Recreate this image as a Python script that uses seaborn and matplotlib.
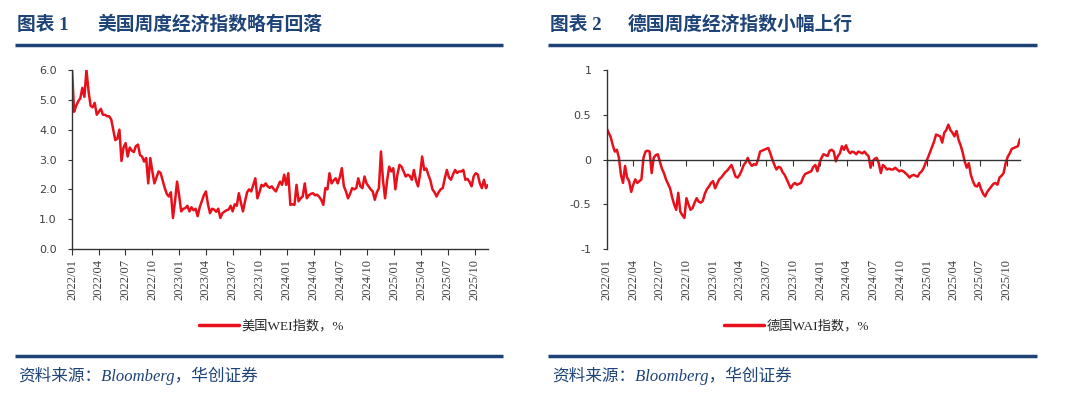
import matplotlib.pyplot as plt
import matplotlib.dates as mdates
from matplotlib.lines import Line2D
import numpy as np
import pandas as pd
import seaborn as sns

# weekly readings, first week 2022/01/01
us_wei = [6.0, 4.6, 4.8, 4.95, 5.05, 5.4, 5.1, 6.0, 5.3, 4.8,
          4.75, 4.9, 4.5, 4.6, 4.7, 4.5, 4.5, 4.45, 4.45, 4.35,
          4.0, 3.65, 3.7, 4.0, 2.95, 3.4, 3.55, 3.1, 3.4, 3.3,
          3.25, 3.45, 3.5, 3.15, 3.1, 2.93, 3.05, 2.2, 3.05, 2.6,
          2.2, 2.4, 2.6, 2.55, 2.3, 2.05, 1.85, 1.76, 1.9, 1.04,
          1.6, 2.26, 1.8, 1.26, 1.35, 1.37, 1.45, 1.26, 1.4, 1.3,
          1.35, 1.1, 1.4, 1.6, 1.8, 1.93, 1.5, 1.2, 1.35, 1.32,
          1.25, 1.35, 1.04, 1.2, 1.25, 1.3, 1.32, 1.45, 1.26, 1.5,
          1.45, 1.87, 1.55, 1.26, 1.6, 1.9, 2.0, 1.93, 2.15, 2.37,
          1.7, 1.9, 2.15, 2.1, 2.2, 2.1, 2.05, 2.1, 2.0, 1.93,
          2.1, 2.26, 2.15, 2.49, 2.15, 2.54, 1.48, 1.5, 1.48, 2.15,
          1.6, 1.7, 1.76, 2.2, 1.7, 1.8, 1.85, 1.87, 1.8, 1.82,
          1.75, 1.65, 1.48, 2.04, 2.0, 2.54, 2.2, 2.3, 2.37, 2.2,
          2.4, 2.71, 2.1, 1.93, 1.7, 1.85, 2.04, 2.0, 2.04, 2.37,
          2.1, 2.04, 2.43, 2.2, 2.1, 2.0, 1.93, 1.65, 1.9, 2.04,
          3.27, 2.3, 1.7, 2.3, 2.76, 2.6, 2.71, 2.0, 2.5, 2.82,
          2.76, 2.6, 2.43, 2.49, 2.45, 2.32, 2.65, 2.3, 2.1, 2.5,
          3.1, 2.65, 2.7, 2.49, 2.3, 2.0, 1.9, 1.76, 1.9, 2.0,
          2.04, 2.37, 2.65, 2.4, 2.32, 2.5, 2.65, 2.55, 2.6, 2.6,
          2.65, 2.32, 2.35, 2.25, 2.1, 2.43, 2.54, 2.5, 2.2, 2.04,
          2.32, 2.04, 2.15]

de_wai = [0.35, 0.3, 0.25, 0.16, 0.09, 0.11, 0.02, -0.17, -0.26, -0.07,
          -0.2, -0.24, -0.36, -0.28, -0.22, -0.26, -0.24, -0.22, 0.02, 0.09,
          0.1, 0.09, -0.15, 0.02, 0.05, 0.06, -0.02, -0.1, -0.15, -0.22,
          -0.27, -0.32, -0.42, -0.5, -0.56, -0.37, -0.58, -0.62, -0.65, -0.43,
          -0.5, -0.56, -0.54, -0.48, -0.43, -0.47, -0.48, -0.46, -0.38, -0.33,
          -0.3, -0.26, -0.24, -0.32, -0.27, -0.22, -0.2, -0.17, -0.14, -0.12,
          -0.09, -0.06, -0.12, -0.19, -0.2, -0.17, -0.12, -0.06, -0.03, 0.02,
          -0.04, -0.07, -0.05, -0.06, 0.0, 0.09, 0.1, 0.11, 0.12, 0.13,
          0.07, 0.0, -0.06, -0.11, -0.08, -0.09, -0.14, -0.17, -0.22, -0.27,
          -0.32, -0.28, -0.26, -0.28, -0.27, -0.26, -0.2, -0.16, -0.15, -0.14,
          -0.13, -0.08, -0.06, -0.13, -0.04, 0.02, 0.06, 0.05, 0.04, 0.1,
          0.11, 0.09, -0.02, 0.04, 0.07, 0.15, 0.11, 0.16, 0.1, 0.07,
          0.09, 0.08, 0.06, 0.09, 0.08, 0.07, 0.09, 0.06, 0.04, -0.09,
          -0.02, 0.01, 0.02, -0.04, -0.15, -0.06, -0.08, -0.11, -0.1, -0.11,
          -0.11, -0.09, -0.11, -0.13, -0.12, -0.13, -0.15, -0.17, -0.2, -0.18,
          -0.17, -0.18, -0.19, -0.15, -0.13, -0.09, -0.03, 0.02, 0.08, 0.14,
          0.2, 0.28, 0.27, 0.26, 0.19, 0.3, 0.33, 0.39, 0.33, 0.3,
          0.26, 0.32, 0.22, 0.16, 0.08, -0.02, -0.09, -0.04, -0.17, -0.24,
          -0.29, -0.3, -0.26, -0.33, -0.38, -0.41, -0.36, -0.33, -0.3, -0.27,
          -0.26, -0.28, -0.2, -0.18, -0.15, -0.04, 0.03, 0.07, 0.12, 0.13,
          0.14, 0.15, 0.23]

dates = pd.date_range('2022-01-01', periods=len(us_wei), freq='7D')
tick_dates = pd.date_range('2022-01-01', '2025-10-01', freq='QS')
tick_labels = [d.strftime('%Y/%m') for d in tick_dates]
us_yticks = [0, 1, 2, 3, 4, 5, 6]
us_ylabels = ['0.0', '1.0', '2.0', '3.0', '4.0', '5.0', '6.0']
de_yticks = [-1, -0.5, 0, 0.5, 1]
de_ylabels = ['-1', '-0.5', '0', '0.5', '1']

navy = '#1d4377'
red = '#e8101a'
serif_cjk = ['Liberation Serif', 'Noto Sans CJK SC']

sns.set_style('ticks')
plt.rcParams['font.family'] = ['DejaVu Sans', 'Noto Sans CJK SC']
plt.rcParams['axes.unicode_minus'] = False

df = pd.DataFrame({'x': mdates.date2num(dates), 'us': us_wei, 'de': de_wai})
xt = mdates.date2num(tick_dates)

fig = plt.figure(figsize=(10.8, 3.96), dpi=100)
ax1 = fig.add_axes([0.0667, 0.3712, 0.3852, 0.452])
ax2 = fig.add_axes([0.5617, 0.3705, 0.3827, 0.4528])

# left: US WEI
sns.lineplot(ax=ax1, data=df, x='x', y='us', color=red, linewidth=1.8, label='美国WEI指数，%')
ax1.set_xlim(df['x'].iloc[0], df['x'].iloc[-1])
ax1.set_ylim(0, 6)
ax1.set_yticks(us_yticks, us_ylabels)
ax1.set_xticks(xt, tick_labels, rotation=90)
for lab in ax1.get_xticklabels():
    lab.set_fontfamily('Liberation Serif')
ax1.tick_params(axis='y', length=3, pad=8, labelsize=8, labelcolor='#404040', color='#333333')
ax1.tick_params(axis='x', length=4, pad=3, labelsize=9, labelcolor='#404040', color='#333333')
sns.despine(ax=ax1)
for s in ['left', 'bottom']:
    ax1.spines[s].set_color('#333333')
    ax1.spines[s].set_linewidth(1)
ax1.set_xlabel('')
ax1.set_ylabel('')
ax1.legend(loc='center', bbox_to_anchor=(0.48, -0.43), frameon=False, handlelength=3,
           handletextpad=0.2, prop={'family': serif_cjk, 'size': 9.5})
for ln in ax1.get_legend().get_lines():
    ln.set_linewidth(2.5)

# right: Germany WAI
sns.lineplot(ax=ax2, data=df, x='x', y='de', color=red, linewidth=1.8, label='德国WAI指数，%')
ax2.set_xlim(df['x'].iloc[0], df['x'].iloc[-1])
ax2.set_ylim(-1, 1)
ax2.set_yticks(de_yticks, de_ylabels)
ax2.set_xticks(xt)
ax2.spines['bottom'].set_position(('data', 0))
ax2.tick_params(axis='x', labelbottom=False, length=4, color='#333333')
ax2.tick_params(axis='y', length=3, pad=8, labelsize=8, labelcolor='#404040', color='#333333')
sns.despine(ax=ax2)
for s in ['left', 'bottom']:
    ax2.spines[s].set_color('#333333')
    ax2.spines[s].set_linewidth(1)
sec = ax2.secondary_xaxis(0.0)
sec.set_xticks(xt, tick_labels, rotation=90)
sec.spines['bottom'].set_visible(False)
sec.tick_params(length=0, pad=7, labelsize=9, labelcolor='#404040')
for lab in sec.get_xticklabels():
    lab.set_fontfamily('Liberation Serif')
ax2.set_xlabel('')
ax2.set_ylabel('')
ax2.legend(loc='center', bbox_to_anchor=(0.46, -0.43), frameon=False, handlelength=3,
           handletextpad=0.2, prop={'family': serif_cjk, 'size': 9.5})
for ln in ax2.get_legend().get_lines():
    ln.set_linewidth(2.5)

# titles, rules and sources
W, H = 1080, 396
fig.text(17 / W, 1 - 25 / H, '图表 1', fontsize=13.5, fontweight='bold', color=navy,
         family=serif_cjk, va='center')
fig.text(97 / W, 1 - 25 / H, '美国周度经济指数略有回落', fontsize=13.5, fontweight='bold',
         color=navy, family=serif_cjk, va='center')
fig.text(550 / W, 1 - 25 / H, '图表 2', fontsize=13.5, fontweight='bold', color=navy,
         family=serif_cjk, va='center')
fig.text(628 / W, 1 - 25 / H, '德国周度经济指数小幅上行', fontsize=13.5, fontweight='bold',
         color=navy, family=serif_cjk, va='center')

for x0, x1 in [(15, 503), (548, 1037)]:
    for yy in [45, 356]:
        fig.add_artist(Line2D([x0 / W, x1 / W], [1 - yy / H, 1 - yy / H], color=navy,
                              linewidth=2.5, solid_capstyle='butt', transform=fig.transFigure))

for x0 in [18, 552]:
    fig.text(x0 / W, 1 - 376 / H, '资料来源：Bloomberg，华创证券', fontsize=12, style='italic',
             color=navy, family=serif_cjk, va='center')

fig.savefig('out.png', dpi=100)
